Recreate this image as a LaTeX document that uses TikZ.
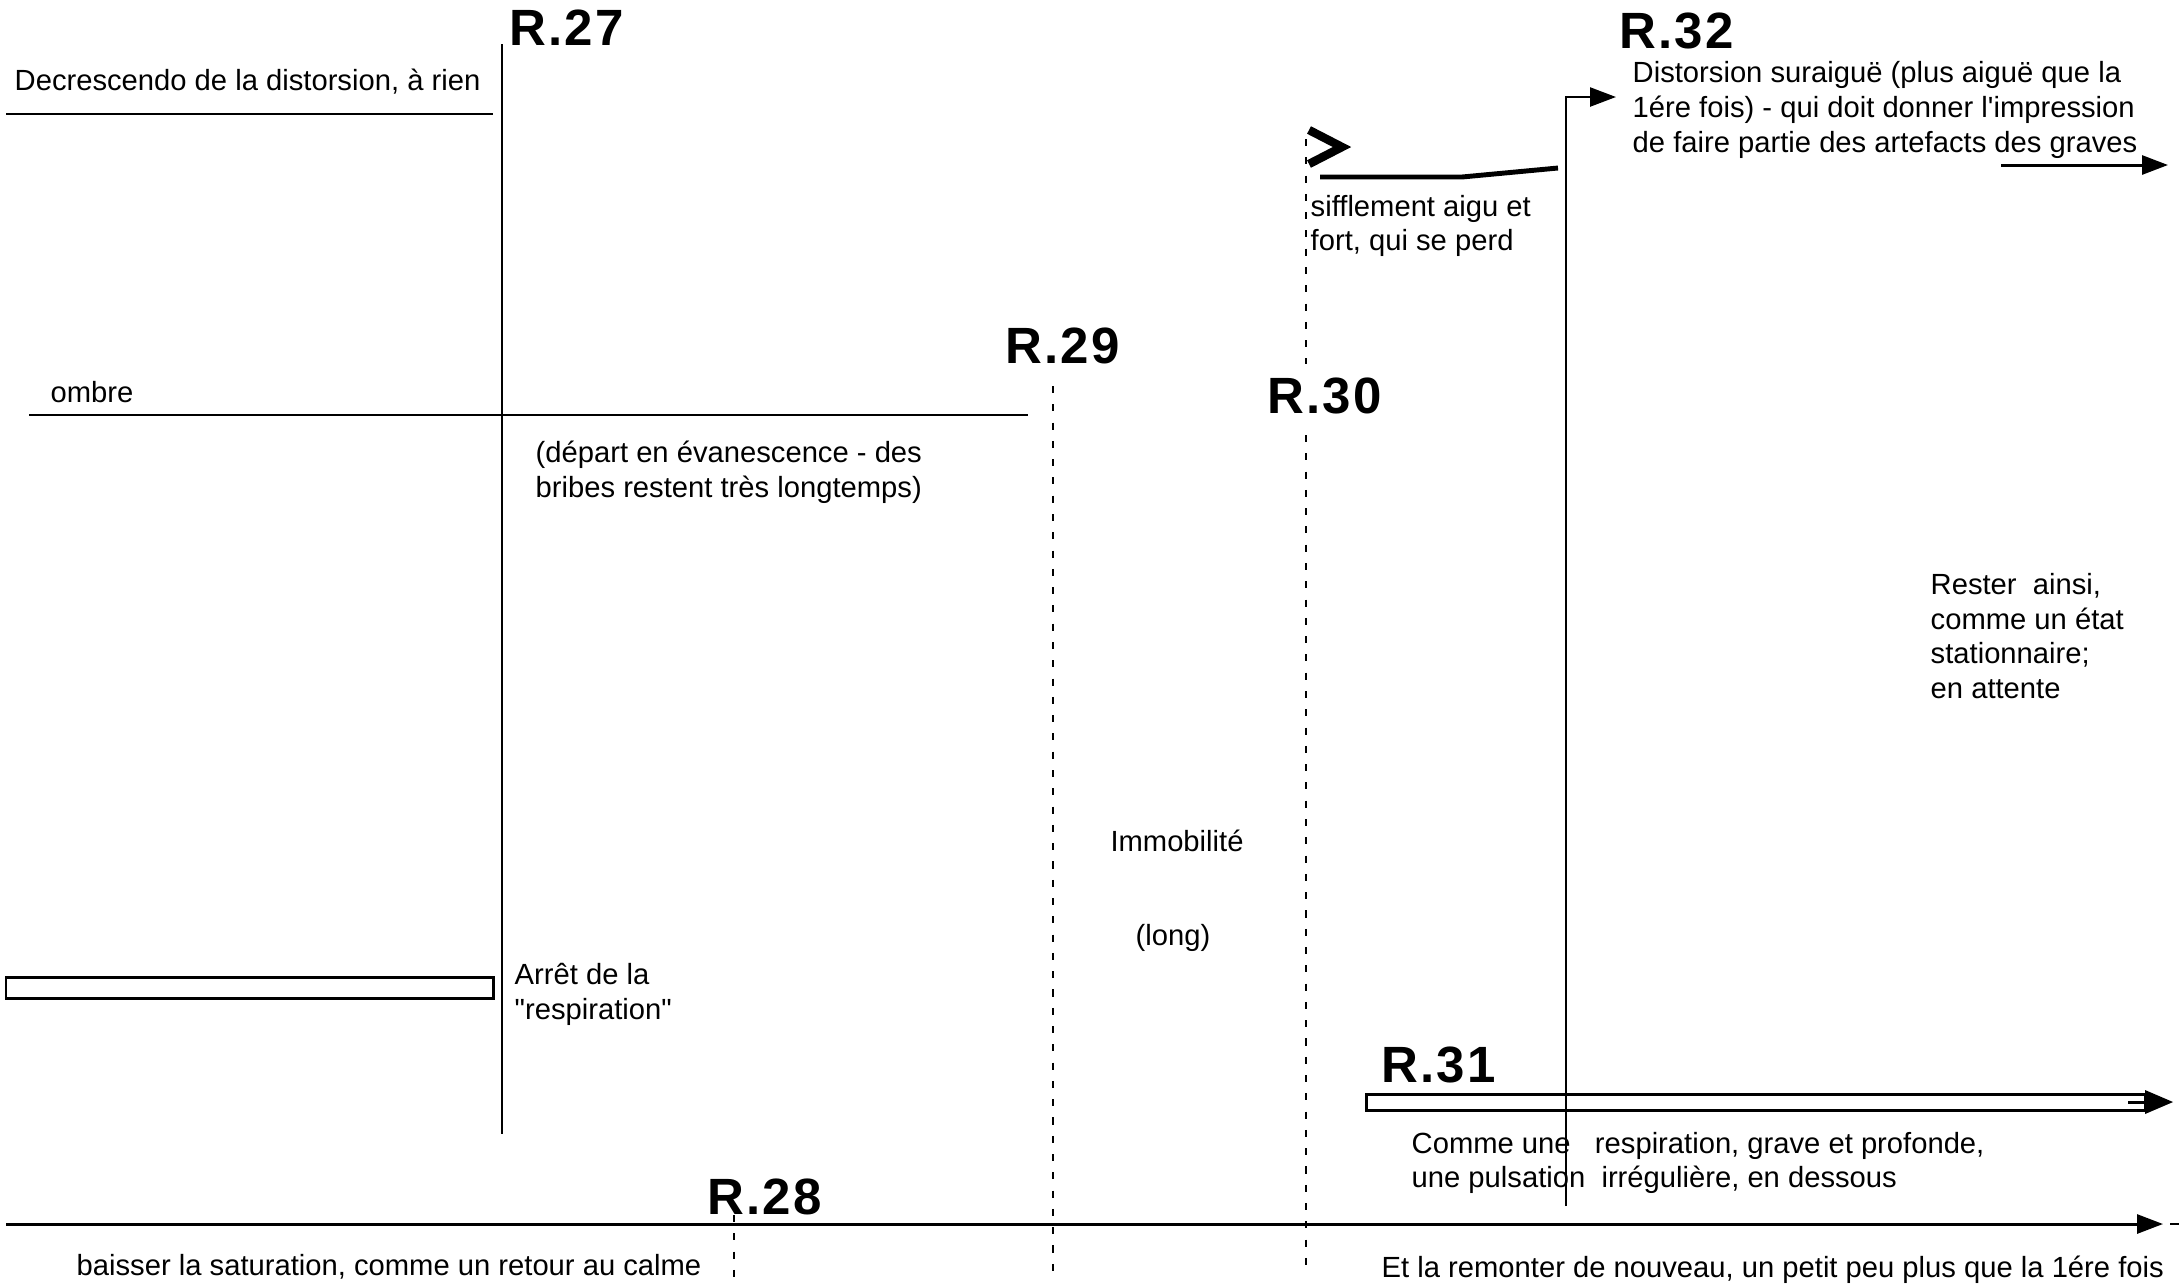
\documentclass[tikz,border=0pt]{standalone}
\usepackage{fontspec}
\newfontfamily\textefont{Liberation Sans}
\newfontfamily\repfont[LetterSpace=4]{Liberation Sans}
\usetikzlibrary{arrows.meta}

\begin{document}
\begin{tikzpicture}[x=0.01cm,y=-0.01cm]
\tikzstyle{txt}=[inner sep=0pt,anchor=west,align=left,font=\textefont\fontsize{8.3}{9.9}\selectfont];
\tikzstyle{rep}=[inner sep=0pt,anchor=west,font=\repfont\bfseries\fontsize{14.5}{16}\selectfont];
\tikzstyle{trait}=[line width=0.7pt];
\tikzstyle{pointille}=[line width=0.6pt,dash pattern=on 2pt off 3.2pt];
\tikzstyle{fleche}=[line width=0.85pt,-{Triangle[length=7.4pt,width=5.4pt]}];
\useasboundingbox (0,0) rectangle (2179,1287);
% reperes
\node (r27) [rep] at (509,28) {R.27};
\node (r28) [rep] at (707,1197) {R.28};
\node (r29) [rep] at (1005,346) {R.29};
\node (r30) [rep] at (1267,396) {R.30};
\node (r31) [rep] at (1381,1065) {R.31};
\node (r32) [rep] at (1619,31) {R.32};
% textes
\node (decresc) [txt] at (14,82) {Decrescendo de la distorsion, à rien};
\node (ombre) [txt] at (50,392) {ombre};
\node (depart) [txt] at (535,472) {(départ en évanescence - des\\bribes restent très longtemps)};
\node (arret) [txt] at (514,994) {Arrêt de la\\"respiration"};
\node (siffl) [txt] at (1310,226) {sifflement aigu et\\fort, qui se perd};
\node (distors) [txt] at (1632,110) {Distorsion suraiguë (plus aiguë que la\\1ére fois) - qui doit donner l'impression\\de faire partie des artefacts des graves};
\node (immob) [txt,anchor=center] at (1177,841) {Immobilité};
\node (long) [txt,anchor=center] at (1173,938) {(long)};
\node (rester) [txt] at (1930,636) {Rester\ \ ainsi,\\comme un état\\stationnaire;\\en attente};
\node (comme) [txt] at (1411,1163) {Comme une\ \ \ respiration, grave et profonde,\\une pulsation\ \ irrégulière, en dessous};
\node (baisser) [txt] at (76,1267) {baisser la saturation, comme un retour au calme};
\node (remonter) [txt] at (1381,1270) {Et la remonter de nouveau, un petit peu plus que la 1ére fois};
% lignes
\coordinate (d1) at (6,114);
\coordinate (d2) at (493,114);
\coordinate (o1) at (29,415);
\coordinate (o2) at (1028,415);
\coordinate (v27a) at (502,44);
\coordinate (v27b) at (502,1134);
\coordinate (v28a) at (734,1215);
\coordinate (v28b) at (734,1287);
\coordinate (v29a) at (1053,386);
\coordinate (v29b) at (1053,1272);
\coordinate (v30a) at (1306,139);
\coordinate (v30b) at (1306,364);
\coordinate (v30c) at (1306,435);
\coordinate (v30d) at (1306,1272);
\coordinate (v32a) at (1566,1206);
\coordinate (v32b) at (1616,97);
\coordinate (g1) at (2001,165);
\coordinate (g2) at (2168,165);
\coordinate (t1) at (6,1224);
\coordinate (t2) at (2163,1224);
\coordinate (s1) at (1320,177);
\coordinate (s2) at (1462,177);
\coordinate (s3) at (1558,168);
\draw [trait] (d1) -- (d2);
\draw [trait] (o1) -- (o2);
\draw [trait] (v27a) -- (v27b);
\draw [pointille] (v28a) -- (v28b);
\draw [pointille] (v29a) -- (v29b);
\draw [pointille] (v30a) -- (v30b);
\draw [pointille] (v30c) -- (v30d);
\draw [fleche,line width=0.7pt] (v32a) |- (v32b);
\draw [fleche] (g1) -- (g2);
\draw [fleche] (t1) -- (t2);
\draw [trait] (2170,1224) -- (2179,1224);
% sifflement
\draw [line width=2.4pt,miter limit=10] (1309,130) -- (1342,147) -- (1309,164);
\draw [line width=1.4pt] (s1) -- (s2) -- (s3);
% barres creuses
\draw [line width=0.85pt] (6,977) rectangle (493,998);
\draw [line width=0.85pt] (1366,1094) rectangle (2145,1110);
\draw [line width=0.85pt] (2128,1102) -- (2145,1102);
\fill (2145,1090) -- (2173,1102) -- (2145,1114) -- cycle;
\end{tikzpicture}
\end{document}
